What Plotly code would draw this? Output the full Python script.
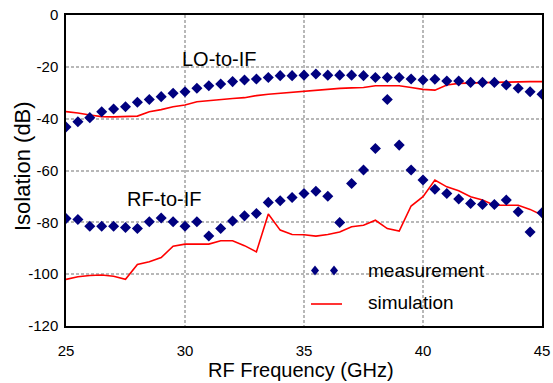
import plotly.graph_objects as go

freq = [25 + 0.5 * i for i in range(41)]

lo_meas = [-43.2, -41.2, -39.6, -37.3, -36.3, -35.4, -33.7, -32.6, -31.5, -30.2,
           -29.6, -28.3, -27.3, -26.6, -25.7, -25.1, -24.7, -24.1, -23.4, -23.4,
           -23.2, -22.8, -23.2, -23.2, -23.2, -23.4, -24.1, -24.1, -24.1, -24.7,
           -25.1, -24.8, -25.5, -25.5, -26.0, -26.0, -26.0, -27.0, -28.3, -29.6,
           -30.6]
rf_meas = [-78.5, -78.9, -81.5, -81.5, -81.5, -82.0, -82.4, -79.8, -78.3, -79.8,
           -81.5, -79.8, -85.3, -82.4, -79.5, -77.5, -76.6, -72.3, -71.7, -70.4,
           -68.9, -68.0, -69.9, -80.1, -65.0, -59.8, -51.5, None, -50.2, -59.8,
           -63.7, -67.2, -68.9, -71.0, -72.7, -73.1, -73.1, -71.4, -75.9, -83.7,
           -76.3]
extra_freq = [38.5]
extra_meas = [-32.6]

lo_sim = [-37.3, -37.8, -38.6, -39.2, -39.3, -39.2, -39.0, -37.3, -36.5, -35.4,
          -34.7, -33.5, -33.0, -32.6, -32.2, -31.9, -31.1, -30.6, -30.2, -29.8,
          -29.4, -29.0, -28.6, -28.3, -28.1, -28.0, -27.3, -27.3, -27.3, -28.0,
          -28.7, -29.0, -27.0, -26.4, -26.2, -26.1, -26.0, -25.9, -25.7, -25.7,
          -25.7]
rf_sim = [-102.0, -101.0, -100.5, -100.3, -100.8, -102.0, -96.3, -95.2, -93.6, -89.2,
          -88.4, -88.4, -88.4, -87.1, -87.1, -89.0, -91.4, -76.8, -83.0, -84.7,
          -84.8, -85.3, -84.7, -83.7, -81.7, -81.1, -79.2, -82.4, -83.4, -73.7,
          -70.1, -63.7, -66.3, -67.8, -70.1, -71.4, -73.4, -73.4, -73.4, -75.0,
          -77.2]

x_ticks = [25, 30, 35, 40, 45]
y_ticks = [0, -20, -40, -60, -80, -100, -120]

NAVY = "#00007f"
RED = "#ff0000"
FONT = "Liberation Sans, Arial, sans-serif"

fig = go.Figure()
for y in (lo_sim, rf_sim):
    fig.add_trace(go.Scatter(x=freq, y=y, mode="lines",
                             line=dict(color=RED, width=1.6), showlegend=False))
for xs, ys in ((freq, lo_meas), (freq, rf_meas), (extra_freq, extra_meas)):
    fig.add_trace(go.Scatter(x=xs, y=ys, mode="markers",
                             marker=dict(symbol="diamond", size=8.5, color=NAVY),
                             showlegend=False))

axis_common = dict(showline=True, linecolor="black", linewidth=1.5, mirror=True,
                   showgrid=True, gridcolor="#b8b8b8", gridwidth=1.5,
                   griddash="3px,2px", ticks="", zeroline=False, automargin=False,
                   tickfont=dict(family=FONT, size=15, color="black"))

fig.update_xaxes(range=[25, 45], tickvals=x_ticks, ticktext=[str(v) for v in x_ticks],
                 ticklabelstandoff=10, **axis_common)
fig.update_yaxes(range=[-120, 0], tickvals=y_ticks, ticktext=[str(v) for v in y_ticks],
                 ticklabelstandoff=3, **axis_common)

W, H = 553, 383
L, R, T, B = 66, 11, 15, 57
pw, ph = W - L - R, H - T - B

def px(x):
    return (x - L) / pw

def py(y):
    return (H - B - y) / ph

ann = []
for text, x, y, size in (("LO-to-IF", 219, 59, 20), ("RF-to-IF", 164, 199, 20)):
    ann.append(dict(text=text, x=px(x), y=py(y), xref="paper", yref="paper",
                    showarrow=False, xanchor="center", yanchor="middle",
                    font=dict(family=FONT, size=size, color="black")))
for text, yy in (("measurement", 270), ("simulation", 302)):
    ann.append(dict(text=text, x=px(366), y=py(yy), xref="paper", yref="paper",
                    showarrow=False, xanchor="left", yanchor="middle",
                    font=dict(family=FONT, size=19, color="black")))
ann.append(dict(text="RF Frequency (GHz)", x=px(301), y=py(370), xref="paper", yref="paper",
                showarrow=False, xanchor="center", yanchor="middle",
                font=dict(family=FONT, size=20, color="black")))
ann.append(dict(text="Isolation (dB)", x=px(22), y=py(166), xref="paper", yref="paper",
                showarrow=False, xanchor="center", yanchor="middle", textangle=-90,
                font=dict(family=FONT, size=22, color="black")))

shapes = [dict(type="line", xref="paper", yref="paper", x0=px(311), x1=px(342),
               y0=py(304), y1=py(304), line=dict(color=RED, width=1.6))]
for cx in (315, 334):
    shapes.append(dict(type="path", xref="paper", yref="paper",
                       xsizemode="pixel", ysizemode="pixel",
                       xanchor=px(cx), yanchor=py(270.5),
                       path="M0,5 L4,0 L0,-5 L-4,0 Z",
                       fillcolor=NAVY, line=dict(color=NAVY, width=0)))

fig.update_layout(width=W, height=H, margin=dict(l=L, r=R, t=T, b=B),
                  paper_bgcolor="white", plot_bgcolor="white",
                  annotations=ann, shapes=shapes, showlegend=False)

fig.write_html("out.html")
